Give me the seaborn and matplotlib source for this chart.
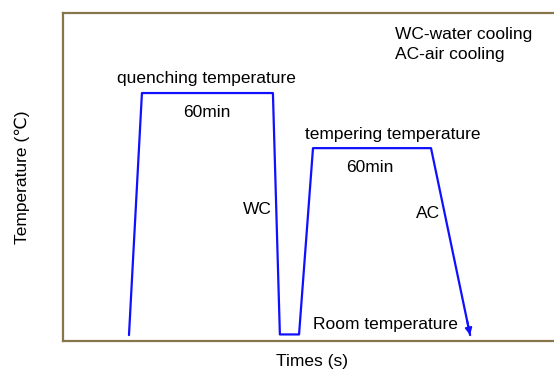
import matplotlib
matplotlib.use("Agg")
import matplotlib.pyplot as plt
import seaborn as sns
import pandas as pd

# Heat-treatment schedule (schematic): time vs temperature
times = [26.5, 31.7, 84.3, 87.1, 94.8, 100.4, 147.8, 163.5]
temps = [18, 756, 756, 20, 20, 588, 588, 18]

x_ticks = [0, 100, 200]
y_ticks = [0, 500, 1000]

sns.set_style("white")
plt.rcParams["font.family"] = ["Liberation Sans", "DejaVu Sans"]
plt.rcParams["text.color"] = "black"
plt.rcParams["axes.labelcolor"] = "black"

fig = plt.figure(figsize=(5.54, 3.69), dpi=100)
ax = fig.add_axes([63 / 554, 28 / 369, 498 / 554, 328 / 369])

df = pd.DataFrame({"time": times, "temp": temps})
sns.lineplot(data=df, x="time", y="temp", sort=False, estimator=None,
             color="#1010ff", linewidth=1.6, ax=ax)

# arrow head on the air-cooling segment
x0, y0 = times[-2], temps[-2]
x1, y1 = times[-1], temps[-1]
ax.annotate("", xy=(x1, y1), xytext=(x1 - 0.08 * (x1 - x0), y1 - 0.08 * (y1 - y0)),
            arrowprops=dict(arrowstyle="-|>", color="#1010ff", lw=1.4,
                            mutation_scale=10, shrinkA=0, shrinkB=0))

ax.set_xlim(0, 200)
ax.set_ylim(0, 1000)
ax.set_xticks(x_ticks)
ax.set_yticks(y_ticks)
ax.set_xticklabels([])
ax.set_yticklabels([])
ax.tick_params(length=1.5, width=1, color="#7fa7c0", direction="in")

spine_color = "#86764a"
for side in ["left", "bottom", "top"]:
    ax.spines[side].set_color(spine_color)
    ax.spines[side].set_linewidth(1.6)
ax.spines["right"].set_visible(False)

fs = 12.5
ax.set_xlabel("Times (s)", fontsize=fs, labelpad=6)
ax.set_ylabel("Temperature (℃)", fontsize=fs, labelpad=20)


def px2data(px, py):
    return ((px - 63) / 498 * 200, (341 - py) / 328 * 1000)


for (px, py, s, ha) in [
    (206, 78, "quenching temperature", "center"),
    (207, 112, "60min", "center"),
    (393, 134, "tempering temperature", "center"),
    (370, 167, "60min", "center"),
    (257, 210, "WC", "center"),
    (428, 213, "AC", "center"),
    (385, 325, "Room temperature", "center"),
    (395, 34, "WC-water cooling", "left"),
    (395, 55, "AC-air cooling", "left"),
]:
    dx, dy = px2data(px, py)
    ax.text(dx, dy, s, fontsize=fs, ha=ha, va="center", color="black")

fig.savefig("out.png", dpi=100)
